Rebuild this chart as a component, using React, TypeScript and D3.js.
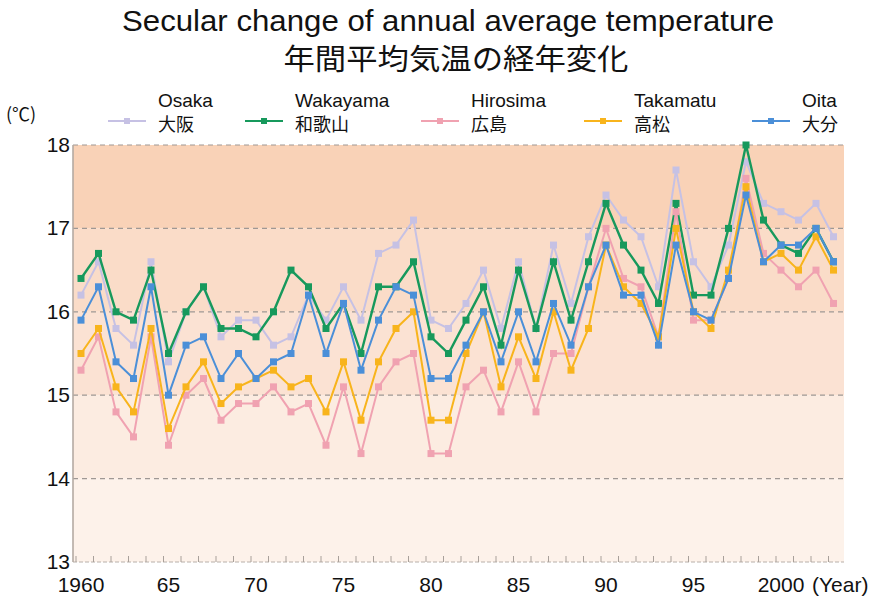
import React from 'react';
import * as d3 from 'd3';

const years = d3.range(1960, 2004);

const osaka = [
  16.2, 16.6, 15.8, 15.6, 16.6, 15.4, 16.0, 16.3, 15.7, 15.9,
  15.9, 15.6, 15.7, 16.2, 15.9, 16.3, 15.9, 16.7, 16.8, 17.1,
  15.9, 15.8, 16.1, 16.5, 15.8, 16.6, 15.8, 16.8, 16.1, 16.9,
  17.4, 17.1, 16.9, 16.3, 17.7, 16.6, 16.3, 16.8, 17.8, 17.3,
  17.2, 17.1, 17.3, 16.9,
];
const wakayama = [
  16.4, 16.7, 16.0, 15.9, 16.5, 15.5, 16.0, 16.3, 15.8, 15.8,
  15.7, 16.0, 16.5, 16.3, 15.8, 16.1, 15.5, 16.3, 16.3, 16.6,
  15.7, 15.5, 15.9, 16.3, 15.6, 16.5, 15.8, 16.6, 15.9, 16.6,
  17.3, 16.8, 16.5, 16.1, 17.3, 16.2, 16.2, 17.0, 18.0, 17.1,
  16.8, 16.7, 17.0, 16.6,
];
const hirosima = [
  15.3, 15.7, 14.8, 14.5, 15.7, 14.4, 15.0, 15.2, 14.7, 14.9,
  14.9, 15.1, 14.8, 14.9, 14.4, 15.1, 14.3, 15.1, 15.4, 15.5,
  14.3, 14.3, 15.1, 15.3, 14.8, 15.4, 14.8, 15.5, 15.5, 16.3,
  17.0, 16.4, 16.3, 15.7, 17.2, 15.9, 15.9, 16.4, 17.6, 16.7,
  16.5, 16.3, 16.5, 16.1,
];
const takamatu = [
  15.5, 15.8, 15.1, 14.8, 15.8, 14.6, 15.1, 15.4, 14.9, 15.1,
  15.2, 15.3, 15.1, 15.2, 14.8, 15.4, 14.7, 15.4, 15.8, 16.0,
  14.7, 14.7, 15.5, 16.0, 15.1, 15.7, 15.2, 16.0, 15.3, 15.8,
  16.8, 16.3, 16.1, 15.7, 17.0, 16.0, 15.8, 16.5, 17.5, 16.6,
  16.7, 16.5, 16.9, 16.5,
];
const oita = [
  15.9, 16.3, 15.4, 15.2, 16.3, 15.0, 15.6, 15.7, 15.2, 15.5,
  15.2, 15.4, 15.5, 16.2, 15.5, 16.1, 15.3, 15.9, 16.3, 16.2,
  15.2, 15.2, 15.6, 16.0, 15.4, 16.0, 15.4, 16.1, 15.6, 16.3,
  16.8, 16.2, 16.2, 15.6, 16.8, 16.0, 15.9, 16.4, 17.4, 16.6,
  16.8, 16.8, 17.0, 16.6,
];

const seriesNames = ['Osaka', 'Wakayama', 'Hirosima', 'Takamatu', 'Oita'];
const seriesNamesJa = ['大阪', '和歌山', '広島', '高松', '大分'];
const seriesValues = [osaka, wakayama, hirosima, takamatu, oita];
const seriesColors = ['#c6c1e4', '#17995c', '#f0a2b1', '#f8b41c', '#4b8fd8'];

const yTicks = [13, 14, 15, 16, 17, 18];
const xLabelYears = [1960, 1965, 1970, 1975, 1980, 1985, 1990, 1995, 2000];
const xLabels = ['1960', '65', '70', '75', '80', '85', '90', '95', '2000'];

// background bands, lower bound -> colour
const bands = [
  { from: 13, to: 14, color: '#fdf2ea' },
  { from: 14, to: 15, color: '#fcece1' },
  { from: 15, to: 16, color: '#fbe2d3' },
  { from: 16, to: 17, color: '#fadcc8' },
  { from: 17, to: 18, color: '#f9d2b7' },
];

const W = 896;
const H = 599;
const plotLeft = 73;
const plotRight = 844;

const latin = '"Liberation Sans", Arial, sans-serif';
const jp = '"Noto Sans CJK JP", "Noto Sans", sans-serif';

const App: React.FC = () => {
  const x = d3.scaleLinear().domain([1960, 2003]).range([81, 833.5]);
  const y = d3.scaleLinear().domain([13, 18]).range([562, 145]);

  const line = d3.line<number>()
    .x((_, i) => x(years[i]))
    .y(d => y(d));

  const legendX = [108, 245, 421, 584, 752];

  return (
    <svg width={W} height={H} style={{ position: 'absolute', left: 0, top: 0, background: '#fff' }}>
      {/* titles */}
      <text x={W / 2} y={31} textAnchor="middle" fontFamily={latin} fontSize={29}
        textLength={652} lengthAdjust="spacingAndGlyphs" fill="#111">
        Secular change of annual average temperature
      </text>
      <text x={W / 2 + 8} y={70} textAnchor="middle" fontFamily={jp} fontSize={29}
        textLength={345} lengthAdjust="spacingAndGlyphs" fill="#111">
        年間平均気温の経年変化
      </text>

      {/* bands */}
      {bands.map(b => (
        <rect key={b.from} x={plotLeft} y={y(b.to)} width={plotRight - plotLeft}
          height={y(b.from) - y(b.to)} fill={b.color} />
      ))}

      {/* grid */}
      {yTicks.filter(t => t > 13).map(t => (
        <line key={t} x1={plotLeft} x2={plotRight} y1={y(t)} y2={y(t)}
          stroke="#9f9894" strokeWidth={1.2} strokeDasharray="5,4" />
      ))}
      <line x1={plotLeft} x2={plotRight} y1={y(13)} y2={y(13)} stroke="#b8b0aa" strokeWidth={1} strokeDasharray="4,2" />
      <line x1={plotLeft} x2={plotLeft} y1={y(18)} y2={y(13)} stroke="#b4aaa3" strokeWidth={1.6} />
      {years.map(yr => (
        <line key={yr} x1={x(yr) - 5} x2={x(yr) - 5} y1={y(13)} y2={y(13) - 6} stroke="#a8a09a" strokeWidth={1} />
      ))}

      {/* y tick labels */}
      {yTicks.map(t => (
        <text key={t} x={70} y={y(t) + 7} textAnchor="end" fontFamily={latin} fontSize={21} fill="#111">{t}</text>
      ))}
      <text x={6} y={121} fontFamily={jp} fontSize={18} fill="#111">(℃)</text>

      {/* x tick labels */}
      {xLabelYears.map((yr, i) => (
        <text key={yr} x={x(yr)} y={592} textAnchor="middle" fontFamily={latin} fontSize={21} fill="#111">{xLabels[i]}</text>
      ))}
      <text x={812} y={592} fontFamily={latin} fontSize={21} fill="#111">(Year)</text>

      {/* series */}
      {seriesValues.map((vals, si) => (
        <g key={seriesNames[si]}>
          <path d={line(vals) || ''} fill="none" stroke={seriesColors[si]} strokeWidth={si === 1 ? 2.4 : 2} />
          {vals.map((v, i) => (
            <rect key={i} x={x(years[i]) - 3.5} y={y(v) - 3.5} width={7} height={7} fill={seriesColors[si]} />
          ))}
        </g>
      ))}

      {/* legend */}
      {seriesNames.map((n, i) => (
        <g key={n}>
          <line x1={legendX[i]} x2={legendX[i] + 38} y1={121} y2={121} stroke={seriesColors[i]} strokeWidth={2} />
          <rect x={legendX[i] + 16} y={118} width={6} height={6} fill={seriesColors[i]} />
          <text x={legendX[i] + 50} y={107} fontFamily={latin} fontSize={19} fill="#111">{n}</text>
          <text x={legendX[i] + 50} y={131} fontFamily={jp} fontSize={18} fill="#111">{seriesNamesJa[i]}</text>
        </g>
      ))}
    </svg>
  );
};

export default App;
